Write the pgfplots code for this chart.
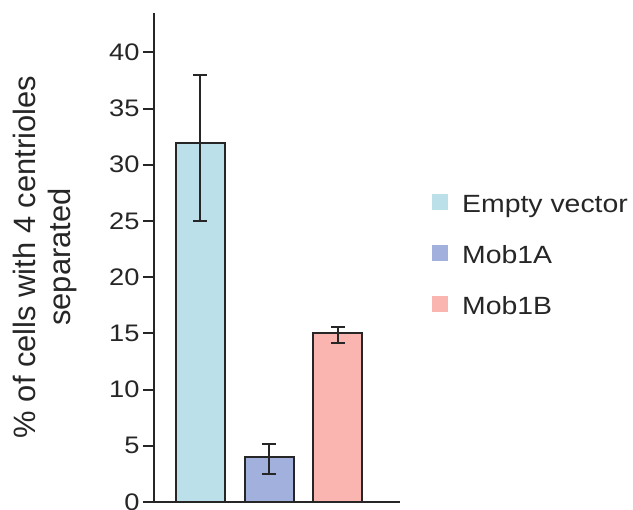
\documentclass[border=0pt]{standalone}
\usepackage{fontspec}
\setmainfont{Liberation Sans}
\newfontfamily\widefont{Liberation Sans}[FakeStretch=1.14]
\usepackage{pgfplots}
\pgfplotsset{compat=1.18}
\definecolor{emptyc}{RGB}{187,224,233}
\definecolor{mobA}{RGB}{161,176,221}
\definecolor{mobB}{RGB}{250,181,176}
\begin{document}
\begin{tikzpicture}
\path[use as bounding box] (0,0) rectangle (633bp,510bp);
\begin{axis}[
    scale only axis,
    width=246bp, height=489bp,
    anchor=south west, at={(154bp,8bp)},
    axis x line*=bottom, axis y line*=left,
    axis line style={line width=2bp, black!85},
    xmin=-0.667, xmax=2.899,
    ymin=0, ymax=43.5,
    xtick=\empty,
    ytick={0,5,10,15,20,25,30,35,40},
    tick align=outside,
    major tick length=11bp,
    tick style={line width=2bp, black!85},
    /pgf/number format/assume math mode=true,
    yticklabel style={font=\widefont\fontsize{24}{28}\selectfont, text=black!85},
    ylabel={\% of cells with 4 centrioles\\separated},
    ylabel style={at={(axis description cs:-0.443,0.501)}, anchor=center,
        align=center, font=\fontsize{31}{36}\selectfont, text=black!85},
    ybar, bar width=49bp, bar shift=0pt,
    error bars/y dir=both, error bars/y explicit,
    error bars/error bar style={line width=2bp, black!85},
    error bars/error mark options={line width=2bp, black!85, mark size=7bp, rotate=90},
    legend style={draw=none, fill=none, at={(1.13,0.630)}, anchor=north west,
        font=\widefont\fontsize{25}{30}\selectfont, text=black!85,
        row sep=33bp, column sep=14bp, inner sep=0pt,
        nodes={inner sep=0pt, text height=18bp, text depth=0bp}},
    legend cell align=left,
    legend image code/.code={\fill[#1, draw=none] (0bp,-7bp) rectangle (16bp,9bp);},
]
\addplot[fill=emptyc, draw=black!85, line width=2bp] coordinates {(0,31.9) += (0,6.1) -= (0,6.9)};
\addplot[fill=mobA, draw=black!85, line width=2bp] coordinates {(1,4.0) += (0,1.2) -= (0,1.5)};
\addplot[fill=mobB, draw=black!85, line width=2bp] coordinates {(2,15.0) += (0,0.6) -= (0,0.9)};
\legend{Empty vector, Mob1A, Mob1B}
\end{axis}
\end{tikzpicture}
\end{document}
